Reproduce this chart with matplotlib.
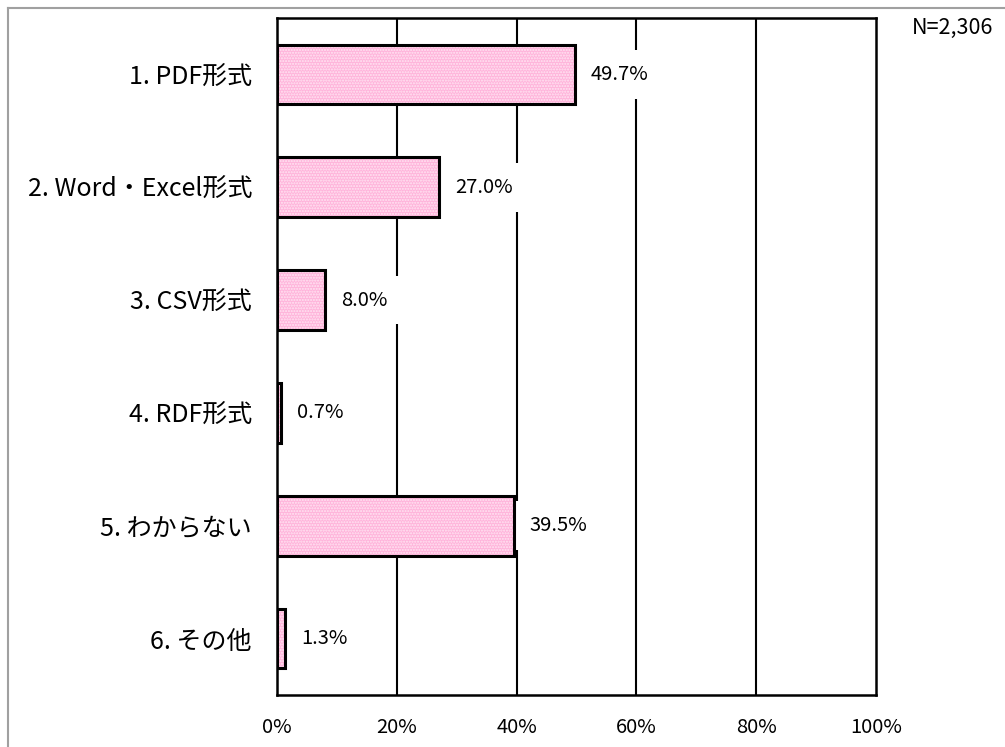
import matplotlib
matplotlib.use("Agg")
import matplotlib.pyplot as plt
from matplotlib.lines import Line2D

plt.rcParams['font.family'] = ['Noto Sans CJK JP', 'DejaVu Sans']
plt.rcParams['hatch.linewidth'] = 1.0

categories = ["1. PDF形式", "2. Word・Excel形式", "3. CSV形式", "4. RDF形式", "5. わからない", "6. その他"]
values = [49.7, 27.0, 8.0, 0.7, 39.5, 1.3]
x_ticks = [0, 20, 40, 60, 80, 100]
x_tick_labels = ["0%", "20%", "40%", "60%", "80%", "100%"]
note = "N=2,306"

fig = plt.figure(figsize=(10.05, 7.47), dpi=100)
ax = fig.add_axes([277 / 1005, 52 / 747, 599 / 1005, 677 / 747])

pos = list(range(len(categories)))

# pink dotted fill, then black outline on top
ax.barh(pos, values, height=0.53, color="#ffb4db", hatch="......",
        edgecolor="#ffe6f3", linewidth=0, zorder=2)
ax.barh(pos, values, height=0.53, fill=False, edgecolor="black",
        linewidth=2.2, zorder=5)

for p, v in zip(pos, values):
    ax.text(v + 2.7, p, f"{v:.1f}%", ha="left", va="center", fontsize=14.5,
            zorder=4, bbox=dict(facecolor="white", edgecolor="none", pad=10))

ax.set_xlim(0, 100)
ax.set_ylim(len(categories) - 0.5, -0.5)
ax.set_xticks(x_ticks)
ax.set_xticklabels(x_tick_labels, fontsize=14.5)
ax.set_yticks(pos)
ax.set_yticklabels(categories, fontsize=18)
ax.tick_params(axis="x", length=0, pad=16)
ax.tick_params(axis="y", length=0, pad=18)

for x in x_ticks[1:-1]:
    ax.axvline(x, color="black", linewidth=1.5, zorder=1)

for s in ax.spines.values():
    s.set_color("black")
    s.set_linewidth(1.8)
    s.set_zorder(6)

fig.text(912 / 1005, 1 - 28 / 747, note, ha="left", va="center", fontsize=15.5)

# grey frame around the chart (top and left visible)
fig.add_artist(Line2D([8 / 1005, 1.0], [1 - 8 / 747, 1 - 8 / 747],
                      color="#a0a0a0", linewidth=1.5, transform=fig.transFigure))
fig.add_artist(Line2D([8 / 1005, 8 / 1005], [0.0, 1 - 8 / 747],
                      color="#a0a0a0", linewidth=1.5, transform=fig.transFigure))

fig.savefig("out.png", dpi=100)
